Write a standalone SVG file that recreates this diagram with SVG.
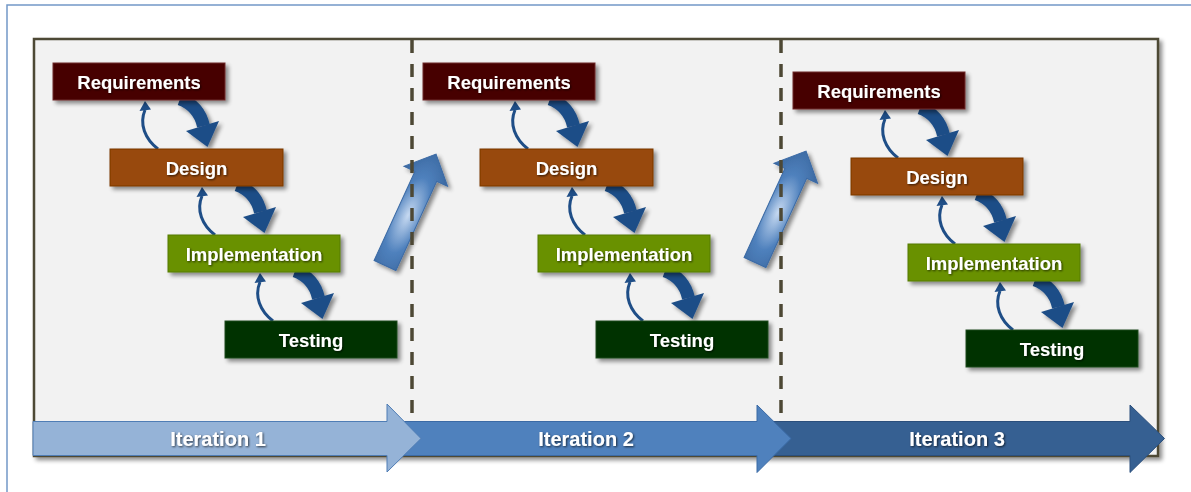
<svg xmlns="http://www.w3.org/2000/svg" width="1191" height="492" viewBox="0 0 1191 492">
  <defs>
    <style>
      .lbl { font-family: "Liberation Sans", Arial, sans-serif; font-weight: bold; font-size: 18.5px; fill: #ffffff; text-anchor: middle; }
      .itl { font-family: "Liberation Sans", Arial, sans-serif; font-weight: bold; font-size: 20px; fill: #ffffff; text-anchor: middle; }
      .box { stroke-width: 1; }
      .req { fill: #460000; stroke: #6e2a2a; }
      .des { fill: #984807; stroke: #7a3a06; }
      .imp { fill: #699100; stroke: #557a00; }
      .tst { fill: #003300; stroke: #1e4a1e; }
      .thin { fill: none; stroke: #1f4e87; stroke-width: 3; }
      .thickb { fill: none; stroke: #1f4e87; stroke-width: 13; }
      .head { fill: #1f4e87; }
    </style>
    <filter id="shadow" x="-20%" y="-30%" width="150%" height="180%">
      <feGaussianBlur in="SourceAlpha" stdDeviation="2"/>
      <feOffset dx="3" dy="3" result="b"/>
      <feComponentTransfer><feFuncA type="linear" slope="0.45"/></feComponentTransfer>
      <feMerge><feMergeNode/><feMergeNode in="SourceGraphic"/></feMerge>
    </filter>
    <filter id="tshadow" x="-10%" y="-30%" width="130%" height="180%">
      <feGaussianBlur in="SourceAlpha" stdDeviation="0.8"/>
      <feOffset dx="1.2" dy="1.2"/>
      <feComponentTransfer><feFuncA type="linear" slope="0.7"/></feComponentTransfer>
      <feMerge><feMergeNode/><feMergeNode in="SourceGraphic"/></feMerge>
    </filter>
    <radialGradient id="diagGrad" cx="0.45" cy="0.5" r="0.6">
      <stop offset="0" stop-color="#c6d9f1"/>
      <stop offset="0.55" stop-color="#4f81bd"/>
      <stop offset="1" stop-color="#3a679f"/>
    </radialGradient>
    <g id="pair">
      <path class="thin" d="M158,149 C145,139 139,124 145,110"/>
      <polygon class="head" points="145,101 139.5,111 151,109.5"/>
      <g filter="url(#shadow)">
        <path class="thickb" d="M180,99 Q199,106 203.5,126"/>
        <polygon class="head" points="186,131 219,121 207.5,147"/>
      </g>
    </g>
    <path id="diag" d="M0,-12 L98,-12 L98,-24 L122.6,0 L98,24 L98,12 L0,12 Z"/>
  </defs>

  <!-- outer frame -->
  <rect x="7" y="5" width="1200" height="500" fill="#ffffff" stroke="#7398c7" stroke-width="1.5"/>

  <!-- panel -->
  <rect x="34" y="39" width="1124" height="417" fill="#f2f2f2" stroke="#4d4835" stroke-width="2.5" filter="url(#shadow)"/>

  <!-- transition arrows between iterations -->
  <g id="transition1" filter="url(#shadow)">
    <use href="#diag" transform="translate(385,265.5) rotate(-65.4)" fill="url(#diagGrad)" stroke="#3b6aa5" stroke-width="1"/>
  </g>
  <g id="transition2" filter="url(#shadow)">
    <use href="#diag" transform="translate(755,262.5) rotate(-65.4)" fill="url(#diagGrad)" stroke="#3b6aa5" stroke-width="1"/>
  </g>

  <!-- dashed separators -->
  <g stroke="#4d4835" stroke-width="3.5" stroke-dasharray="13 11">
    <line x1="412" y1="40" x2="412" y2="430"/>
    <line x1="781" y1="40" x2="781" y2="430"/>
  </g>

  <!-- connectors -->
  <g id="connectors">
    <use href="#pair"/>
    <use href="#pair" transform="translate(57,86)"/>
    <use href="#pair" transform="translate(115,172)"/>
    <use href="#pair" transform="translate(370,0)"/>
    <use href="#pair" transform="translate(427,86)"/>
    <use href="#pair" transform="translate(485,172)"/>
    <use href="#pair" transform="translate(740,9)"/>
    <use href="#pair" transform="translate(797,95)"/>
    <use href="#pair" transform="translate(855,181)"/>
  </g>

  <!-- Iteration 1 nodes -->
  <g id="req1" filter="url(#shadow)"><rect class="box req" x="53" y="63" width="172" height="37"/></g>
  <text class="lbl" x="139" y="89" filter="url(#tshadow)">Requirements</text>
  <g id="des1" filter="url(#shadow)"><rect class="box des" x="110" y="149" width="173" height="37"/></g>
  <text class="lbl" x="196.5" y="175" filter="url(#tshadow)">Design</text>
  <g id="imp1" filter="url(#shadow)"><rect class="box imp" x="168" y="235" width="172" height="37"/></g>
  <text class="lbl" x="254" y="261" filter="url(#tshadow)">Implementation</text>
  <g id="tst1" filter="url(#shadow)"><rect class="box tst" x="225" y="321" width="172" height="37"/></g>
  <text class="lbl" x="311" y="347" filter="url(#tshadow)">Testing</text>

  <!-- Iteration 2 nodes -->
  <g id="req2" filter="url(#shadow)"><rect class="box req" x="423" y="63" width="172" height="37"/></g>
  <text class="lbl" x="509" y="89" filter="url(#tshadow)">Requirements</text>
  <g id="des2" filter="url(#shadow)"><rect class="box des" x="480" y="149" width="173" height="37"/></g>
  <text class="lbl" x="566.5" y="175" filter="url(#tshadow)">Design</text>
  <g id="imp2" filter="url(#shadow)"><rect class="box imp" x="538" y="235" width="172" height="37"/></g>
  <text class="lbl" x="624" y="261" filter="url(#tshadow)">Implementation</text>
  <g id="tst2" filter="url(#shadow)"><rect class="box tst" x="596" y="321" width="172" height="37"/></g>
  <text class="lbl" x="682" y="347" filter="url(#tshadow)">Testing</text>

  <!-- Iteration 3 nodes -->
  <g id="req3" filter="url(#shadow)"><rect class="box req" x="793" y="72" width="172" height="37"/></g>
  <text class="lbl" x="879" y="98" filter="url(#tshadow)">Requirements</text>
  <g id="des3" filter="url(#shadow)"><rect class="box des" x="851" y="158" width="172" height="37"/></g>
  <text class="lbl" x="937" y="184" filter="url(#tshadow)">Design</text>
  <g id="imp3" filter="url(#shadow)"><rect class="box imp" x="908" y="244" width="172" height="37"/></g>
  <text class="lbl" x="994" y="270" filter="url(#tshadow)">Implementation</text>
  <g id="tst3" filter="url(#shadow)"><rect class="box tst" x="966" y="330" width="172" height="37"/></g>
  <text class="lbl" x="1052" y="356" filter="url(#tshadow)">Testing</text>

  <!-- Iteration timeline arrows -->
  <g id="iter3">
    <path d="M770,421.5 L1130,421.5 L1130,405 L1164.5,438.5 L1130,472.5 L1130,455.5 L770,455.5 Z" fill="#366092" stroke="#2b4f7c" stroke-width="1"/>
    <text class="itl" x="957" y="446" filter="url(#tshadow)">Iteration 3</text>
  </g>
  <g id="iter2">
    <path d="M400,421.5 L757,421.5 L757,405 L791,438.5 L757,472.5 L757,455.5 L400,455.5 Z" fill="#4f81bd" stroke="#3b6aa5" stroke-width="1"/>
    <text class="itl" x="586" y="446" filter="url(#tshadow)">Iteration 2</text>
  </g>
  <g id="iter1">
    <path d="M33,421.5 L387,421.5 L387,404 L421,438.5 L387,472 L387,455.5 L33,455.5 Z" fill="#95b3d7" stroke="#4f7db5" stroke-width="1"/>
    <text class="itl" x="218" y="446" filter="url(#tshadow)">Iteration 1</text>
  </g>
</svg>
